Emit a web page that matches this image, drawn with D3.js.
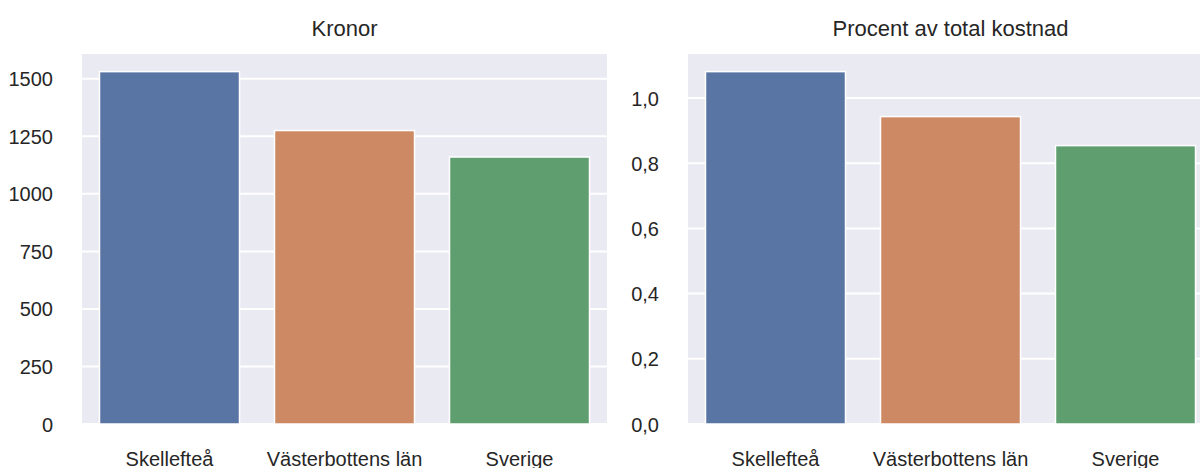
<!DOCTYPE html>
<html>
<head>
<meta charset="utf-8">
<script src="https://cdn.jsdelivr.net/npm/d3@7"></script>
<style>
  html, body { margin: 0; padding: 0; background: #fff; }
  svg { display: block; }
</style>
</head>
<body>
<div id="chart"></div>
<script>
// data
const categories = ["Skellefteå", "Västerbottens län", "Sverige"];
const kronorValues = [1531, 1275, 1160];
const procentValues = [1.081, 0.943, 0.854];
const kronorTicks = [0, 250, 500, 750, 1000, 1250, 1500];
const procentTicks = [0, 0.2, 0.4, 0.6, 0.8, 1.0];
const titles = ["Kronor", "Procent av total kostnad"];

const width = 1200, height = 468;
const colors = ["#5975a4", "#cc8963", "#5f9e6e"];
const textColor = "#262626";
const font = "'Liberation Sans', Arial, Helvetica, sans-serif";

const svg = d3.select("#chart").append("svg")
  .attr("width", width)
  .attr("height", height)
  .attr("font-family", font);

function drawPanel(opts) {
  const { left, top, w, h, values, ticks, format, title } = opts;

  const x = d3.scaleBand().domain(categories).range([0, w]).paddingInner(0.2).paddingOuter(0.1);
  const y = d3.scaleLinear().domain([0, d3.max(values) * 1.05]).range([h, 0]);

  const g = svg.append("g").attr("transform", `translate(${left},${top})`);

  g.append("rect")
    .attr("class", "bg")
    .attr("width", w)
    .attr("height", h)
    .attr("fill", "#eaeaf2");

  // horizontal grid
  g.selectAll("line.grid-y").data(ticks).join("line")
    .attr("class", "grid-y")
    .attr("x1", 0).attr("x2", w)
    .attr("y1", d => y(d)).attr("y2", d => y(d))
    .attr("stroke", "#fff")
    .attr("stroke-width", 2);

  // bars
  g.selectAll("rect.bar").data(values).join("rect")
    .attr("class", "bar")
    .attr("x", (d, i) => x(categories[i]))
    .attr("y", d => y(d))
    .attr("width", x.bandwidth())
    .attr("height", d => h - y(d))
    .attr("fill", (d, i) => colors[i])
    .attr("stroke", "#fff")
    .attr("stroke-width", 1.5);

  // y axis
  const yAxis = d3.axisLeft(y).tickValues(ticks).tickFormat(format).tickSize(0).tickPadding(29);
  const ya = g.append("g").attr("class", "y-axis").call(yAxis);
  ya.select(".domain").remove();
  ya.selectAll("text")
    .attr("fill", textColor)
    .attr("font-size", 20)
    .attr("font-family", font)
    .attr("dy", "0.35em");

  // x axis
  const xAxis = d3.axisBottom(x).tickSize(0).tickPadding(0);
  const xa = g.append("g").attr("class", "x-axis").attr("transform", `translate(0,${h})`).call(xAxis);
  xa.select(".domain").remove();
  xa.selectAll("text")
    .attr("fill", textColor)
    .attr("font-size", 20)
    .attr("font-family", font)
    .attr("dy", null)
    .attr("y", 42);

  g.append("text")
    .attr("class", "title")
    .attr("x", w / 2)
    .attr("y", -18)
    .attr("text-anchor", "middle")
    .attr("fill", textColor)
    .attr("font-size", 22)
    .text(title);
}

const fmtComma = d => d3.format(".1f")(d).replace(".", ",");

drawPanel({ left: 82, top: 54, w: 525, h: 370, values: kronorValues, ticks: kronorTicks, format: d3.format("d"), title: titles[0] });
drawPanel({ left: 688, top: 54, w: 525, h: 370, values: procentValues, ticks: procentTicks, format: fmtComma, title: titles[1] });
</script>
</body>
</html>
